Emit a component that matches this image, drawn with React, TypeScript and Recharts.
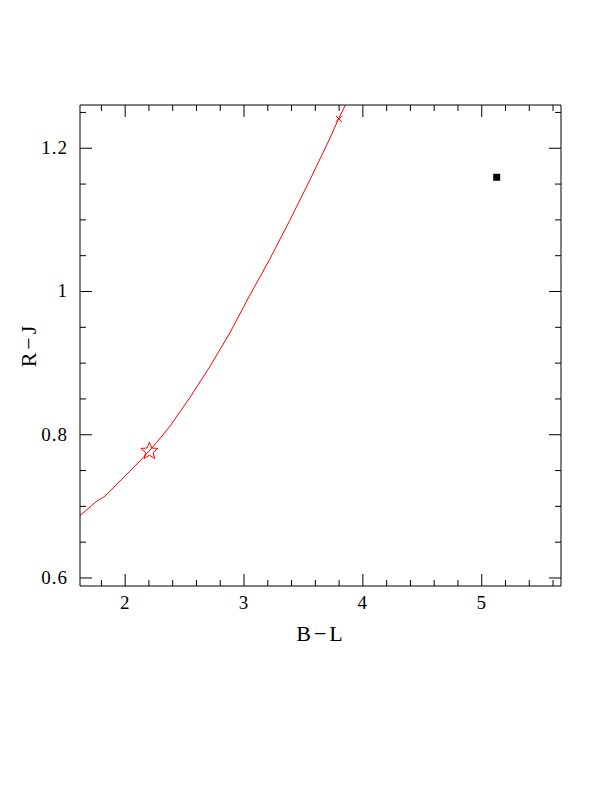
import React from "react";
import { ComposedChart, Line, Scatter, XAxis, YAxis } from "recharts";

// model curve (B-L, R-J)
const curveBL = [1.619, 1.76, 1.829, 2.039, 2.151, 2.264, 2.377, 2.545, 2.712, 2.88, 3.04, 3.216, 3.384, 3.552, 3.72, 3.798, 3.852];
const curveRJ = [0.687, 0.707, 0.714, 0.749, 0.768, 0.789, 0.812, 0.852, 0.895, 0.942, 0.992, 1.045, 1.099, 1.155, 1.213, 1.242, 1.26];

const starPoint = [{ x: 2.204, y: 0.777 }];
const crossPoint = [{ x: 3.798, y: 1.241 }];
const squarePoint = [{ x: 5.126, y: 1.1595 }];

const xTicks = [1.8, 2, 2.2, 2.4, 2.6, 2.8, 3, 3.2, 3.4, 3.6, 3.8, 4, 4.2, 4.4, 4.6, 4.8, 5, 5.2, 5.4, 5.6];
const yTicks = [0.6, 0.65, 0.7, 0.75, 0.8, 0.85, 0.9, 0.95, 1, 1.05, 1.1, 1.15, 1.2, 1.25];
const xMajor = [2, 3, 4, 5];
const yMajor = [0.6, 0.8, 1, 1.2];

const xDomain = [1.62, 5.667];
const yDomain = [0.5888, 1.2604];

const curveData = curveBL.map((x, i) => ({ x, y: curveRJ[i] }));

const FONT = "'Liberation Serif', serif";

const isMajor = (v: number, list: number[]) => list.some(m => Math.abs(m - v) < 1e-6);

function makeTick(side: "bottom" | "top" | "left" | "right", majors: number[], showLabel: boolean) {
  return (props: any) => {
    const { x, y, payload } = props;
    const v = payload.value as number;
    const major = isMajor(v, majors);
    const len = major ? 12 : 6;
    let line;
    if (side === "bottom") line = <line x1={x} y1={y} x2={x} y2={y - len} stroke="#000" />;
    else if (side === "top") line = <line x1={x} y1={y} x2={x} y2={y + len} stroke="#000" />;
    else if (side === "left") line = <line x1={x} y1={y} x2={x + len} y2={y} stroke="#000" />;
    else line = <line x1={x} y1={y} x2={x - len} y2={y} stroke="#000" />;
    let label = null;
    if (showLabel && major) {
      if (side === "bottom") {
        label = <text x={x} y={y + 23} textAnchor="middle" fontFamily={FONT} fontSize={19} letterSpacing={1} fill="#000">{String(v)}</text>;
      } else if (side === "left") {
        label = <text x={x - 12} y={y + 6} textAnchor="end" fontFamily={FONT} fontSize={19} letterSpacing={1} fill="#000">{String(v)}</text>;
      }
    }
    return <g>{line}{label}</g>;
  };
}

function Star(props: any) {
  const { cx, cy } = props;
  const R = 9, r = 4;
  const pts: string[] = [];
  for (let i = 0; i < 10; i++) {
    const a = -Math.PI / 2 + (i * Math.PI) / 5;
    const rad = i % 2 === 0 ? R : r;
    pts.push(`${cx + rad * Math.cos(a)},${cy + rad * Math.sin(a)}`);
  }
  return <polygon points={pts.join(" ")} fill="none" stroke="#ff0000" strokeWidth={1} />;
}

function Cross(props: any) {
  const { cx, cy } = props;
  const s = 3;
  return (
    <g stroke="#ff0000" strokeWidth={1}>
      <line x1={cx - s} y1={cy - s} x2={cx + s} y2={cy + s} />
      <line x1={cx - s} y1={cy + s} x2={cx + s} y2={cy - s} />
    </g>
  );
}

function Square(props: any) {
  const { cx, cy } = props;
  return <rect x={cx - 3.5} y={cy - 3.5} width={7} height={7} fill="#000" />;
}

export default function App() {
  return (
    <div style={{ position: "absolute", left: 0, top: 0, width: 612, height: 792, background: "#fff" }}>
      <ComposedChart width={612} height={792} margin={{ top: 75, right: 21, bottom: 176, left: 20 }}>
        <XAxis
          xAxisId="b" dataKey="x" type="number" domain={xDomain} allowDataOverflow
          ticks={xTicks} interval={0} orientation="bottom" height={30}
          tickSize={0} tickMargin={0} tickLine={false}
          axisLine={{ stroke: "#000" }} tick={makeTick("bottom", xMajor, true)}
        />
        <XAxis
          xAxisId="t" dataKey="x" type="number" domain={xDomain} allowDataOverflow
          ticks={xTicks} interval={0} orientation="top" height={30}
          tickSize={0} tickMargin={0} tickLine={false}
          axisLine={{ stroke: "#000" }} tick={makeTick("top", xMajor, false)}
        />
        <YAxis
          yAxisId="l" dataKey="y" type="number" domain={yDomain} allowDataOverflow
          ticks={yTicks} interval={0} orientation="left" width={60}
          tickSize={0} tickMargin={0} tickLine={false}
          axisLine={{ stroke: "#000" }} tick={makeTick("left", yMajor, true)}
        />
        <YAxis
          yAxisId="r" dataKey="y" type="number" domain={yDomain} allowDataOverflow
          ticks={yTicks} interval={0} orientation="right" width={30}
          tickSize={0} tickMargin={0} tickLine={false}
          axisLine={{ stroke: "#000" }} tick={makeTick("right", yMajor, false)}
        />
        <Line
          xAxisId="b" yAxisId="l" data={curveData} dataKey="y" type="linear"
          stroke="#ff0000" strokeWidth={1} dot={false} isAnimationActive={false}
        />
        <Scatter xAxisId="b" yAxisId="l" data={starPoint} dataKey="y" shape={<Star />} isAnimationActive={false} />
        <Scatter xAxisId="b" yAxisId="l" data={crossPoint} dataKey="y" shape={<Cross />} isAnimationActive={false} />
        <Scatter xAxisId="b" yAxisId="l" data={squarePoint} dataKey="y" shape={<Square />} isAnimationActive={false} />
      </ComposedChart>
      <div style={{ position: "absolute", left: 221, width: 200, top: 621, textAlign: "center", fontFamily: FONT, fontSize: 22, letterSpacing: 3 }}>
        B−L
      </div>
      <div style={{ position: "absolute", left: 29, top: 345, width: 0, height: 0 }}>
        <div style={{ position: "absolute", left: -50, top: -13, width: 100, textAlign: "center", transform: "rotate(-90deg)", fontFamily: FONT, fontSize: 22, letterSpacing: 3, lineHeight: "26px" }}>
          R−J
        </div>
      </div>
    </div>
  );
}
